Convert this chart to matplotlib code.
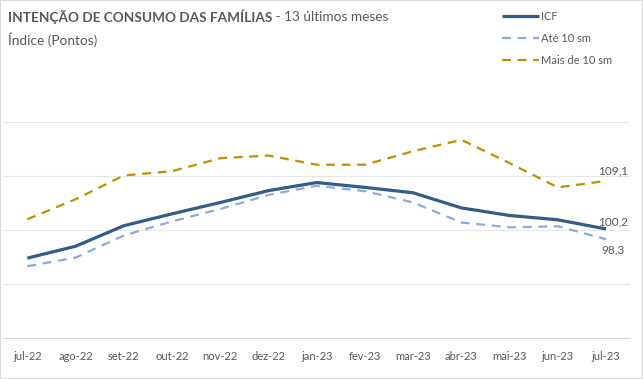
import numpy as np
import matplotlib.pyplot as plt
from matplotlib.patches import Rectangle

# dados
meses = ["jul-22", "ago-22", "set-22", "out-22", "nov-22", "dez-22", "jan-23",
         "fev-23", "mar-23", "abr-23", "mai-23", "jun-23", "jul-23"]
icf = [94.8, 97.0, 100.8, 103.0, 105.1, 107.3, 108.8, 107.9, 106.9, 104.1, 102.7, 101.9, 100.2]
ate10 = [93.3, 94.9, 99.0, 101.6, 103.9, 106.5, 108.2, 107.2, 105.1, 101.4, 100.5, 100.7, 98.3]
mais10 = [102.0, 105.7, 110.1, 110.9, 113.3, 113.8, 112.1, 112.1, 114.6, 116.7, 112.4, 107.9, 109.1]

plt.rcParams['font.family'] = ['Lato', 'DejaVu Sans']
cinza = "#595959"

fig = plt.figure(figsize=(6.43, 3.79), dpi=100)
ax = fig.add_axes([0.005, 0.108, 0.975, 0.57])

x = np.arange(len(meses))
ax.plot(x, icf, color="#335C87", lw=2.3, label="ICF", solid_capstyle="butt")
ax.plot(x, ate10, color="#8EA9DB", lw=1.6, dashes=(4, 3), label="Até 10 sm")
ax.plot(x, mais10, color="#BF9000", lw=1.6, dashes=(4, 3), label="Mais de 10 sm")

ax.set_xlim(-0.5, len(meses) - 0.5)
ax.set_ylim(80, 120)
ax.set_yticks([80, 90, 100, 110, 120])
ax.yaxis.grid(True, color="#E6E6E6", lw=0.8)
ax.set_yticklabels([])
ax.tick_params(axis="y", length=0)
ax.set_xticks(x)
ax.set_xticklabels(meses, color=cinza, fontsize=8)
ax.tick_params(axis="x", length=0, pad=9)
for s in ["top", "right", "left"]:
    ax.spines[s].set_visible(False)
ax.spines["bottom"].set_color("#D9D9D9")
ax.set_axisbelow(True)

# rótulos finais
n = len(meses) - 1
ax.annotate(f"{mais10[-1]:.1f}".replace(".", ","), (n, mais10[-1]), xytext=(-6, 7),
            textcoords="offset points", color=cinza, fontsize=8.5, va="center", ha="left")
ax.annotate(f"{icf[-1]:.1f}".replace(".", ","), (n, icf[-1]), xytext=(-6, 5),
            textcoords="offset points", color=cinza, fontsize=8.5, va="center", ha="left")
ax.annotate(f"{ate10[-1]:.1f}".replace(".", ","), (n, ate10[-1]), xytext=(-3, -8),
            textcoords="offset points", color=cinza, fontsize=8.5, va="center", ha="left")

# título
t = fig.text(0.0125, 0.955, "INTENÇÃO DE CONSUMO DAS FAMÍLIAS", fontsize=9.8,
             fontweight="bold", color=cinza, va="center")
fig.canvas.draw()
bb = t.get_window_extent()
fig.text(bb.x1 / fig.bbox.width, 0.955, " - 13 últimos meses", fontsize=9.8,
         color=cinza, va="center")
fig.text(0.0125, 0.895, "Índice (Pontos)", fontsize=9.8, color=cinza, va="center")

fig.legend(loc="upper left", bbox_to_anchor=(0.765, 0.998), frameon=False,
           fontsize=8, labelcolor=cinza, handlelength=3.3, handletextpad=0.2,
           labelspacing=1.0)

fig.patches.append(Rectangle((0, 0), 1, 1, transform=fig.transFigure, fill=False,
                             edgecolor="#D9D9D9", lw=1.5))

fig.savefig("out.png", dpi=100)
